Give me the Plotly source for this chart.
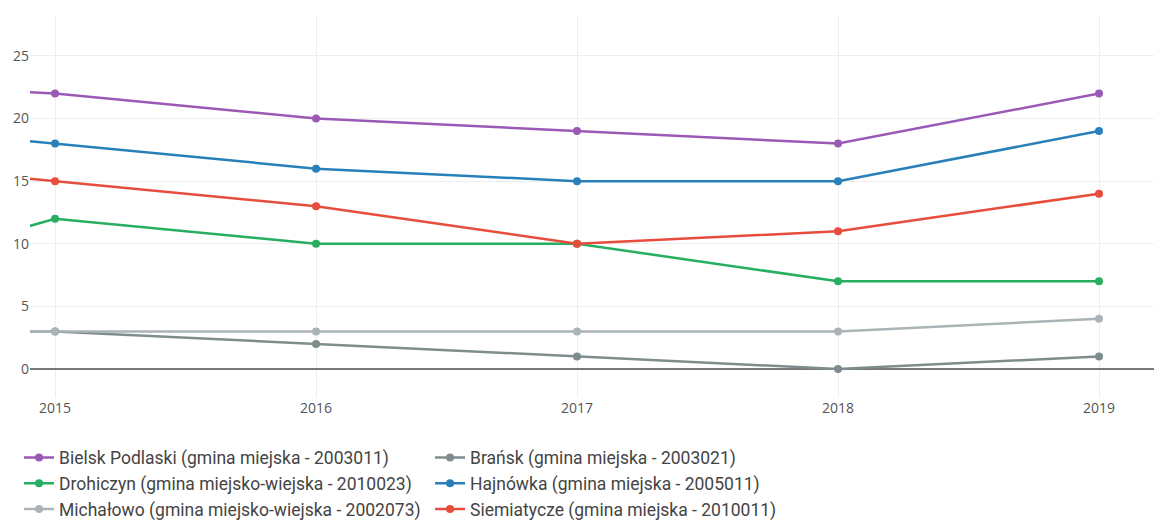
import plotly.graph_objects as go

# years (2014 lies just off the left edge of the view)
years = [2014, 2015, 2016, 2017, 2018, 2019]

names = [
    "Bielsk Podlaski (gmina miejska - 2003011)",
    "Brańsk (gmina miejska - 2003021)",
    "Drohiczyn (gmina miejsko-wiejska - 2010023)",
    "Hajnówka (gmina miejska - 2005011)",
    "Michałowo (gmina miejsko-wiejska - 2002073)",
    "Siemiatycze (gmina miejska - 2010011)",
]

bielsk = [23, 22, 20, 19, 18, 22]
bransk = [3, 3, 2, 1, 0, 1]
drohiczyn = [6, 12, 10, 10, 7, 7]
hajnowka = [20, 18, 16, 15, 15, 19]
michalowo = [3, 3, 3, 3, 3, 4]
siemiatycze = [17, 15, 13, 10, 11, 14]

series = [bielsk, bransk, drohiczyn, hajnowka, michalowo, siemiatycze]
colors = ["#9b59b6", "#7f8c8d", "#27ae60", "#2980b9", "#aab3b6", "#e74c3c"]

fig = go.Figure()
for name, vals, col in zip(names, series, colors):
    fig.add_trace(go.Scatter(
        x=years, y=vals, name=name, mode="lines+markers",
        line=dict(color=col, width=2.5),
        marker=dict(color=col, size=8),
    ))

fig.update_layout(
    width=1162, height=522,
    margin=dict(l=22, r=0, t=7, b=132),
    plot_bgcolor="white", paper_bgcolor="white",
    font=dict(family="Open Sans", size=14, color="#555"),
    legend=dict(orientation="h", x=0.0095, y=0.173, xref="container", yref="container",
                xanchor="left", yanchor="top", entrywidth=366,
                font=dict(family="Roboto", size=17.5, color="#444")),
    showlegend=True,
)
fig.update_xaxes(range=[2014.904, 2019.272], tickvals=[2015, 2016, 2017, 2018, 2019],
                 showgrid=True, gridcolor="#eeeeee", zeroline=False, automargin=False)
fig.update_yaxes(range=[-2.32, 28.27], tickvals=[0, 5, 10, 15, 20, 25],
                 showgrid=True, gridcolor="#eeeeee", automargin=False,
                 zeroline=True, zerolinecolor="#777", zerolinewidth=2)

fig.write_html("out.html")
